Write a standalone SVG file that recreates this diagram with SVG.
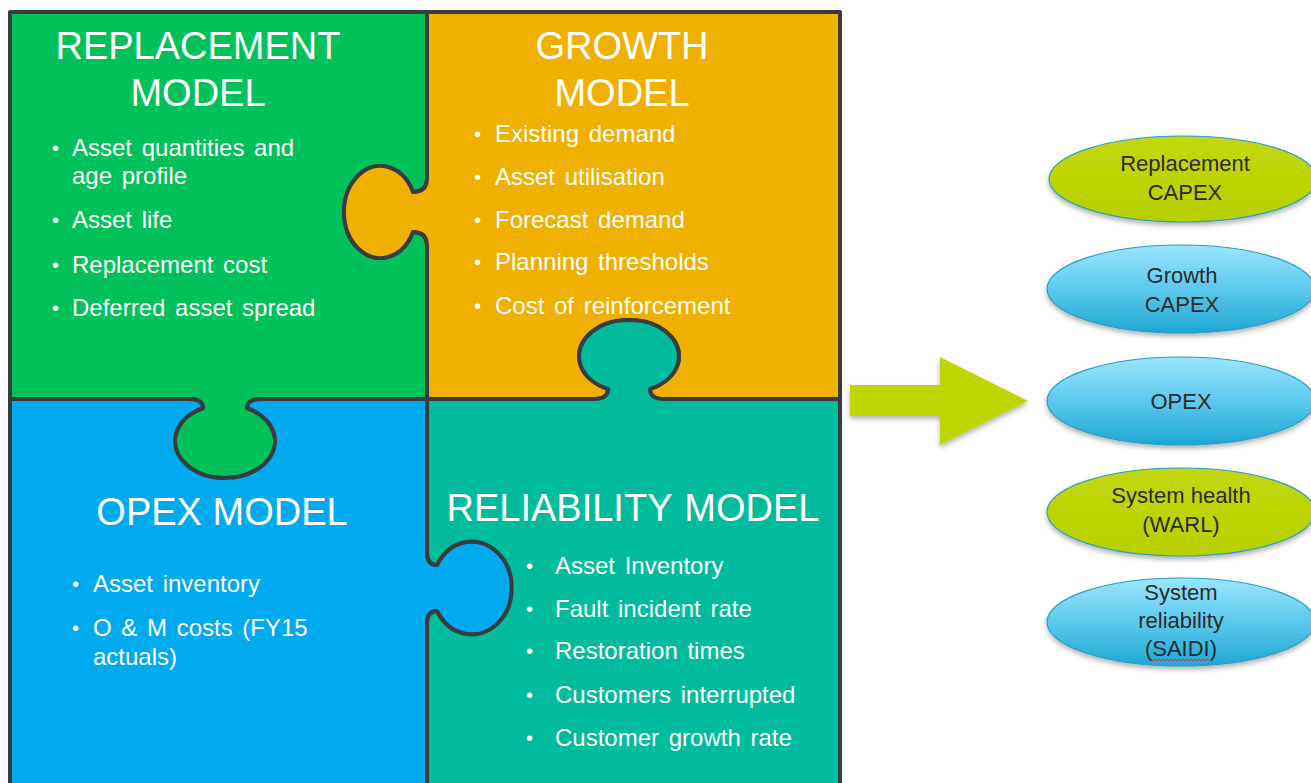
<svg xmlns="http://www.w3.org/2000/svg" width="1311" height="783" viewBox="0 0 1311 783">
<style>
.piece{stroke:#393c3f;stroke-width:4;stroke-linejoin:round}
.title{font-family:"Liberation Sans",Arial,sans-serif;font-size:38px;fill:#fff;text-anchor:middle}
.item{font-family:"Liberation Sans",Arial,sans-serif;font-size:24px;fill:#fff;word-spacing:3px}
.dot{font-family:"Liberation Sans",Arial,sans-serif;font-size:20px;fill:#fff}
.lbl{font-family:"Liberation Sans",Arial,sans-serif;font-size:22px;fill:#2b2b2b;text-anchor:middle}
.ell{stroke:#2f9ec4;stroke-width:1.2}
</style>
<defs>
<linearGradient id="gBlue" x1="0" y1="0" x2="0" y2="1">
<stop offset="0" stop-color="#9ae6fd"/>
<stop offset="0.5" stop-color="#5cc9ee"/>
<stop offset="1" stop-color="#1ea6d3"/>
</linearGradient>
<linearGradient id="gLime" x1="0" y1="0" x2="0" y2="1">
<stop offset="0" stop-color="#c2d80a"/>
<stop offset="1" stop-color="#b8d000"/>
</linearGradient>
<filter id="sh" x="-10%" y="-20%" width="120%" height="150%">
<feDropShadow dx="0" dy="3" stdDeviation="2.5" flood-color="#000" flood-opacity="0.3"/>
</filter>
</defs>
<rect width="1311" height="783" fill="#fff"/>

<g id="replacement-model">
<path class="piece" fill="#00c15a" d="M10,12 H427 V178 Q427,192 413,192 A36.3,46 0 1 0 413,232 Q427,232 427,246 V399 H262 Q247,399 247,408 A50,36.9 0 1 1 203,408 Q203,399 188,399 H10 Z"/>
<text class="title" x="198" y="59">REPLACEMENT</text>
<text class="title" x="198" y="106">MODEL</text>
<text class="dot" x="52" y="155">•</text><text class="item" x="72" y="156">Asset quantities and</text>
<text class="item" x="72" y="184">age profile</text>
<text class="dot" x="52" y="227">•</text><text class="item" x="72" y="228">Asset life</text>
<text class="dot" x="52" y="272">•</text><text class="item" x="72" y="273">Replacement cost</text>
<text class="dot" x="52" y="315">•</text><text class="item" x="72" y="316">Deferred asset spread</text>
</g>

<g id="growth-model">
<path class="piece" fill="#f0b000" d="M427,12 H840 V399 H664 Q650,399 650,389 A50,36.2 0 1 0 608,389 Q608,399 594,399 H427 V246 Q427,232 413,232 A36.3,46 0 1 1 413,192 Q427,192 427,178 V12 Z"/>
<text class="title" x="622" y="59">GROWTH</text>
<text class="title" x="622" y="106">MODEL</text>
<text class="dot" x="474" y="141">•</text><text class="item" x="495" y="142">Existing demand</text>
<text class="dot" x="474" y="184">•</text><text class="item" x="495" y="185">Asset utilisation</text>
<text class="dot" x="474" y="227">•</text><text class="item" x="495" y="228">Forecast demand</text>
<text class="dot" x="474" y="269">•</text><text class="item" x="495" y="270">Planning thresholds</text>
<text class="dot" x="474" y="313">•</text><text class="item" x="495" y="314">Cost of reinforcement</text>
</g>

<g id="opex-model">
<path class="piece" fill="#00aaee" d="M10,399 H188 Q203,399 203,408 A50,36.9 0 1 0 247,408 Q247,399 262,399 H427 V552 Q427,565 437,565 A40,46.5 0 1 1 437,611 Q427,611 427,624 V795 H10 Z"/>
<text class="title" x="222" y="525">OPEX MODEL</text>
<text class="dot" x="72" y="591">•</text><text class="item" x="93" y="592">Asset inventory</text>
<text class="dot" x="72" y="635">•</text><text class="item" x="93" y="636">O &amp; M costs (FY15</text>
<text class="item" x="93" y="665">actuals)</text>
</g>

<g id="reliability-model">
<path class="piece" fill="#00bc9c" d="M427,399 H594 Q608,399 608,389 A50,36.2 0 1 1 650,389 Q650,399 664,399 H840 V795 H427 V624 Q427,611 437,611 A40,46.5 0 1 0 437,565 Q427,565 427,552 Z"/>
<text class="title" x="633" y="521" style="word-spacing:2px">RELIABILITY MODEL</text>
<text class="dot" x="526" y="573">•</text><text class="item" x="555" y="574">Asset Inventory</text>
<text class="dot" x="526" y="616">•</text><text class="item" x="555" y="617">Fault incident rate</text>
<text class="dot" x="526" y="658">•</text><text class="item" x="555" y="659">Restoration times</text>
<text class="dot" x="526" y="702">•</text><text class="item" x="555" y="703">Customers interrupted</text>
<text class="dot" x="526" y="745">•</text><text class="item" x="555" y="746">Customer growth rate</text>
</g>

<g id="connectors">
<polygon filter="url(#sh)" fill="#bed600" points="850,385 940,385 940,357 1028,401 940,445 940,416 850,416"/>
</g>

<g id="out-replacement-capex">
<ellipse class="ell" filter="url(#sh)" cx="1183" cy="179" rx="134" ry="43" fill="url(#gLime)"/>
<text class="lbl" x="1185" y="171">Replacement</text>
<text class="lbl" x="1185" y="200">CAPEX</text>
</g>
<g id="out-growth-capex">
<ellipse class="ell" filter="url(#sh)" cx="1181" cy="289" rx="134" ry="44" fill="url(#gBlue)"/>
<text class="lbl" x="1182" y="283">Growth</text>
<text class="lbl" x="1182" y="312">CAPEX</text>
</g>
<g id="out-opex">
<ellipse class="ell" filter="url(#sh)" cx="1181" cy="401" rx="134" ry="44" fill="url(#gBlue)"/>
<text class="lbl" x="1181" y="409">OPEX</text>
</g>
<g id="out-system-health">
<ellipse class="ell" filter="url(#sh)" cx="1181" cy="512" rx="134" ry="44" fill="url(#gLime)"/>
<text class="lbl" x="1181" y="503">System health</text>
<text class="lbl" x="1181" y="532">(WARL)</text>
</g>
<g id="out-system-reliability">
<ellipse class="ell" filter="url(#sh)" cx="1181" cy="622" rx="134" ry="44" fill="url(#gBlue)"/>
<text class="lbl" x="1181" y="600">System</text>
<text class="lbl" x="1181" y="628">reliability</text>
<text class="lbl" x="1181" y="656">(SAIDI)</text>
<path d="M1149,661 l2,-2 l2,2 l2,-2 l2,2 l2,-2 l2,2 l2,-2 l2,2 l2,-2 l2,2 l2,-2 l2,2 l2,-2 l2,2 l2,-2 l2,2 l2,-2 l2,2 l2,-2 l2,2 l2,-2 l2,2 l2,-2 l2,2 l2,-2 l2,2 l2,-2 l2,2 l2,-2 l2,2" fill="none" stroke="#e0302a" stroke-width="1"/>
</g>
</svg>
